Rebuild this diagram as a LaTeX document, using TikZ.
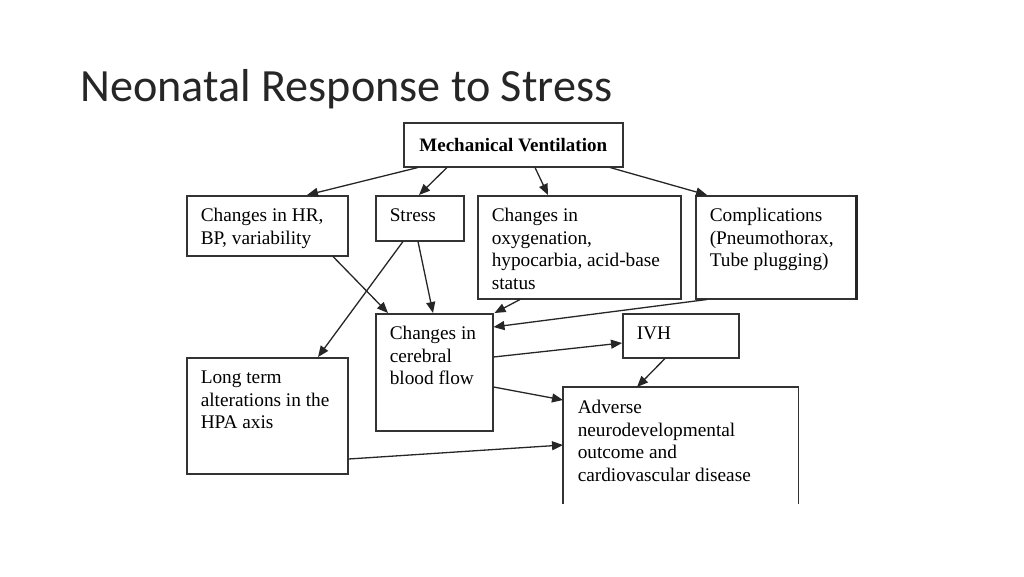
\documentclass[tikz,border=0pt]{standalone}
\usepackage{fontspec}
\setmainfont{Liberation Serif}
\newfontfamily\titlefont{Carlito}
\usetikzlibrary{arrows.meta,positioning,calc}

% text block placed at the top left of a box
\newcommand{\boxtext}[3]{\parbox[t][#2][t]{#1}{\raggedright\strut #3}}

\begin{document}
\begin{tikzpicture}[
    x=1pt, y=-1pt,
    box/.style={draw=black!80, line width=1.5pt, anchor=north west, inner xsep=14pt, inner ysep=10pt,
        font=\fontsize{19.3}{22.5}\selectfont},
    openbox/.style={box, draw=none},
    topbox/.style={draw=black!80, line width=1.5pt, anchor=north west, minimum width=219pt, minimum height=44pt,
        inner sep=0pt, font=\fontsize{19}{22}\selectfont\bfseries},
    arrow/.style={-{Triangle[length=11pt,width=9pt]}, line width=1.3pt, black!85},
    edge/.style={line width=1.5pt, black!80}
]

\useasboundingbox (0,0) rectangle (1024,576);

% Title
\node[anchor=base west, inner sep=0pt, text=black!85, font=\titlefont\fontsize{46.2}{52}\selectfont] (title) at (80,101) {Neonatal Response to Stress};

% Top
\node[topbox] (mv) at (403,122) {Mechanical Ventilation};

% Second row
\node[box] (hr) at (186,195) {\boxtext{133pt}{40pt}{Changes in HR,\\BP, variability}};
\node[box] (st) at (375,195) {\boxtext{60pt}{25pt}{Stress}};
\node[box] (ox) at (477,195) {\boxtext{175pt}{83pt}{Changes in\\oxygenation,\\hypocarbia, acid-base\\status}};
\node[box] (co) at (695,195) {\boxtext{133pt}{83pt}{Complications\\(Pneumothorax,\\Tube plugging)}};

% Third row
\node[box] (cb) at (375,313) {\boxtext{89pt}{97pt}{Changes in\\cerebral\\blood flow}};
\node[box] (ivh) at (622,313) {\boxtext{88pt}{24pt}{IVH}};
\node[box] (lt) at (186,357) {\boxtext{133pt}{96pt}{Long term\\alterations in the\\HPA axis}};
\node[openbox] (ad) at (563,387) {\boxtext{206pt}{95pt}{Adverse\\neurodevelopmental\\outcome and\\cardiovascular disease}};

% Box edges
\draw[line width=3.5pt, black!85] ([xshift=-1pt]co.north east) -- ([xshift=-1pt]co.south east);
\draw[edge] (ad.south west) -- (ad.north west) -- (ad.north east) -- (ad.south east);

% From mechanical ventilation
\draw[arrow] ([xshift=15pt]mv.south west) -- ([xshift=121pt]hr.north west);
\draw[arrow] ([xshift=44pt]mv.south west) -- ([xshift=44pt]st.north west);
\draw[arrow] ([xshift=132pt]mv.south west) -- ([xshift=71pt]ox.north west);
\draw[arrow] ([xshift=207pt]mv.south west) -- ([xshift=12pt]co.north west);

% Into cerebral blood flow
\draw[arrow] ([xshift=147pt]hr.south west) -- ([xshift=13pt]cb.north west);
\draw[arrow] ([xshift=43pt]st.south west) -- ([xshift=58pt]cb.north west);
\draw[arrow] ([xshift=43pt]ox.south west) -- ([xshift=1pt]cb.north east);
\draw[arrow] ([xshift=12pt]co.south west) -- ([yshift=-14pt]cb.north east);

% Stress to HPA axis
\draw[arrow] ([xshift=28pt]st.south west) -- ([xshift=132pt]lt.north west);

% Towards outcome
\draw[arrow] ([yshift=-44pt]cb.north east) -- ([yshift=-30pt]ivh.north west);
\draw[arrow] ([xshift=43pt]ivh.south west) -- ([xshift=74pt]ad.north west);
\draw[arrow] ([yshift=-74pt]cb.north east) -- ([yshift=-13pt]ad.north west);
\draw[arrow] ([yshift=-102pt]lt.north east) -- ([yshift=-58pt]ad.north west);

\end{tikzpicture}
\end{document}
